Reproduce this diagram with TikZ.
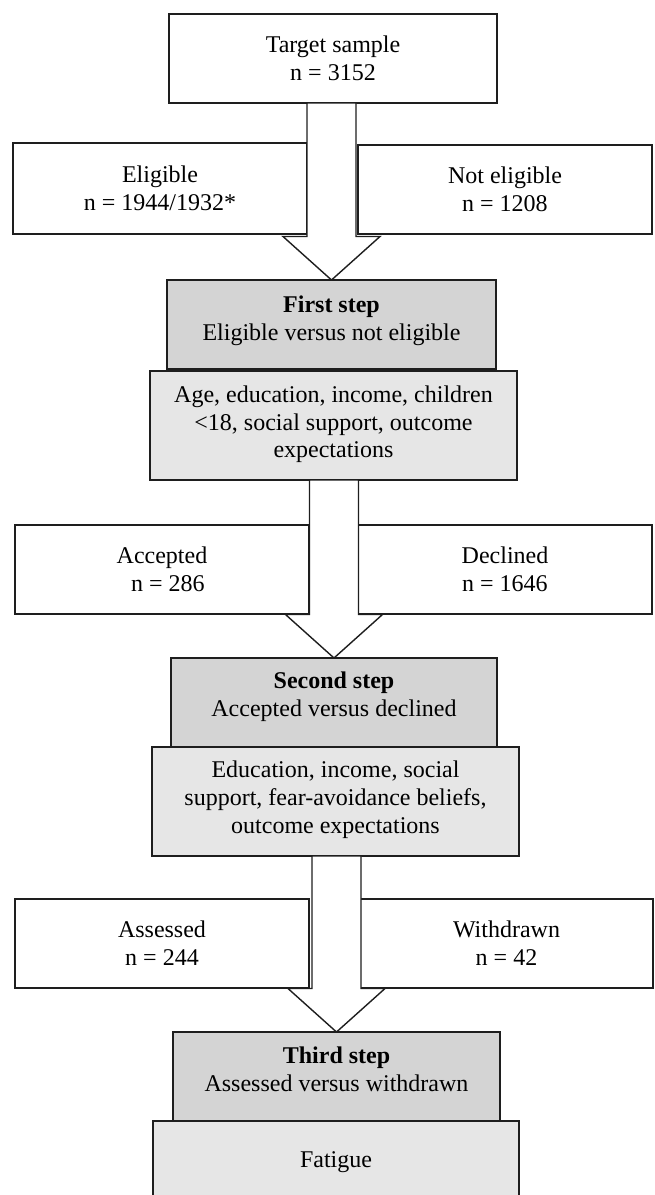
\documentclass[tikz,border=0pt]{standalone}
\usepackage{fontspec}
\setmainfont{Liberation Serif}
\usetikzlibrary{calc}
\definecolor{stepgray}{RGB}{212,212,212}
\definecolor{factgray}{RGB}{230,230,230}
\definecolor{edgecol}{RGB}{30,30,30}
\tikzset{
  box/.style={draw=edgecol, line width=1.4pt, inner sep=0pt, outer sep=0pt,
              align=center, font=\fontsize{24}{27.8}\selectfont},
  whitebox/.style={box, fill=white},
  stepbox/.style={box, fill=stepgray},
  factbox/.style={box, fill=factgray},
  txt/.style={anchor=north, inner sep=0pt, outer sep=0pt, align=center,
              font=\fontsize{24}{27.8}\selectfont},
  blockarrow/.style={draw=edgecol, line width=1.4pt, fill=white, line join=miter},
}
\newcommand{\blockarrowpath}[2]{%
  \draw[blockarrow]
    ($(#1.south -| #2.north)+(-24.5,0)$) --
    ($(#2.north)+(-24.5,-43.5)$) --
    ($(#2.north)+(-48.5,-43.5)$) --
    (#2.north) --
    ($(#2.north)+(48.5,-43.5)$) --
    ($(#2.north)+(24.5,-43.5)$) --
    ($(#1.south -| #2.north)+(24.5,0)$) -- cycle;}
\begin{document}
\begin{tikzpicture}[x=1pt, y=-1pt]
\useasboundingbox (0,0) rectangle (654,1195);
\clip (0,0) rectangle (654,1195);

% top
\node[whitebox, minimum width=328, minimum height=89] (target) at (333,58.5)
  {Target sample\\n = 3152};
\node[whitebox, minimum width=294, minimum height=91] (elig) at (160,188.5)
  {Eligible\\n = 1944/1932*};
\node[whitebox, minimum width=294, minimum height=89] (notelig) at (505,189.5)
  {Not eligible\\n = 1208};

% first step
\node[stepbox, minimum width=329, minimum height=89] (first) at (331.5,324.5) {};
\node[txt] (firstT) at (331.5,296) {\textbf{First step}\\Eligible versus not eligible};
\node[factbox, minimum width=367, minimum height=109] (fact1) at (333.5,425.5) {};
\node[txt] (fact1T) at (333.5,385.6) {Age, education, income, children\\<18, social support, outcome\\expectations};

% second row
\node[whitebox, minimum width=294, minimum height=89] (acc) at (162,569.5)
  {Accepted\\\hspace*{12pt}n = 286};
\node[whitebox, minimum width=294, minimum height=89] (dec) at (505,569.5)
  {Declined\\n = 1646};

\node[stepbox, minimum width=326, minimum height=89] (second) at (334,702.5) {};
\node[txt] (secondT) at (334,671.6) {\textbf{Second step}\\Accepted versus declined};
\node[factbox, minimum width=367, minimum height=109] (fact2) at (335.5,801.5) {};
\node[txt] (fact2T) at (335.5,761) {Education, income, social\\support, fear-avoidance beliefs,\\outcome expectations};

% third row
\node[whitebox, minimum width=294, minimum height=89] (ass) at (162,943.5)
  {Assessed\\n = 244};
\node[whitebox, minimum width=293, minimum height=89] (wd) at (506.5,943.5)
  {Withdrawn\\n = 42};

\node[stepbox, minimum width=327, minimum height=89] (third) at (336.5,1076.5) {};
\node[txt] (thirdT) at (336.5,1047) {\textbf{Third step}\\Assessed versus withdrawn};
\node[factbox, minimum width=366, minimum height=100] (fatigue) at (336,1171) {};
\node[txt] (fatigueT) at (336,1152) {Fatigue};

% block arrows
\blockarrowpath{target}{first}
\blockarrowpath{fact1}{second}
\blockarrowpath{fact2}{third}
\end{tikzpicture}
\end{document}
